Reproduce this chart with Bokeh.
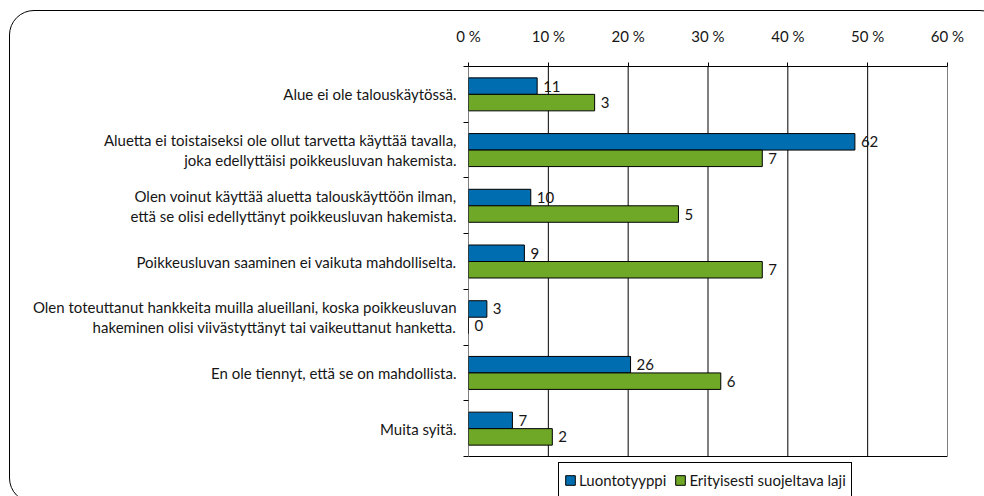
from bokeh.plotting import figure
from bokeh.models import (Range1d, FixedTicker, Legend, LegendItem,
                          ColumnDataSource, InlineStyleSheet)
from bokeh.core.properties import value
from bokeh.embed import file_html
from bokeh.resources import INLINE

# ---------------- data ----------------
categories = [
    "Alue ei ole talouskäytössä.",
    "Aluetta ei toistaiseksi ole ollut tarvetta käyttää tavalla,\njoka edellyttäisi poikkeusluvan hakemista.",
    "Olen voinut käyttää aluetta talouskäyttöön ilman,\nettä se olisi edellyttänyt poikkeusluvan hakemista.",
    "Poikkeusluvan saaminen ei vaikuta mahdolliselta.",
    "Olen toteuttanut hankkeita muilla alueillani, koska poikkeusluvan\nhakeminen olisi viivästyttänyt tai vaikeuttanut hanketta.",
    "En ole tiennyt, että se on mahdollista.",
    "Muita syitä.",
]
series_names = ["Luontotyyppi", "Erityisesti suojeltava laji"]
luontotyyppi_pct = [8.6, 48.4, 7.8, 7.0, 2.3, 20.3, 5.5]
luontotyyppi_n = [11, 62, 10, 9, 3, 26, 7]
laji_pct = [15.8, 36.8, 26.3, 36.8, 0.0, 31.6, 10.5]
laji_n = [3, 7, 5, 7, 0, 6, 2]
x_ticks = [0, 10, 20, 30, 40, 50, 60]
x_tick_labels = ["0 %", "10 %", "20 %", "30 %", "40 %", "50 %", "60 %"]

# ---------------- style ----------------
FONT = "Lato"
FS = "15px"
TXT = "#161616"
BLUE = "#006DB0"
GREEN = "#6FA827"
BAR_H = 0.296
PLOT_H_PX = 390      # height of the bar area
BOTTOM_PX = 40       # legend strip below the bar area (inside the frame)

n = len(categories)
centers = [i + 0.5 for i in range(n)]
boundaries = list(range(n + 1))
x_max = x_ticks[-1]

src_b = ColumnDataSource(dict(
    y=[c - BAR_H / 2 for c in centers],
    x=luontotyyppi_pct,
    t=[str(v) for v in luontotyyppi_n],
))
src_g = ColumnDataSource(dict(
    y=[c + BAR_H / 2 for c in centers],
    x=laji_pct,
    t=[str(v) for v in laji_n],
))

p = figure(width=984, height=496,
           x_range=Range1d(0, x_max),
           y_range=Range1d(n * (1 + BOTTOM_PX / PLOT_H_PX), 0),
           x_axis_location="above",
           output_backend="svg", toolbar_location=None,
           min_border_left=468, min_border_right=37,
           min_border_top=66, min_border_bottom=0)
p.background_fill_color = "white"
p.border_fill_color = "white"
p.outline_line_color = None
p.xgrid.visible = False
p.ygrid.visible = False

# x axis (top)
xa = p.xaxis[0]
xa.ticker = FixedTicker(ticks=x_ticks, minor_ticks=[])
xa.major_label_overrides = {t: l for t, l in zip(x_ticks, x_tick_labels)}
xa.axis_line_color = "black"
xa.major_tick_line_color = "black"
xa.major_tick_out = 4
xa.major_tick_in = 0
xa.minor_tick_out = 0
xa.minor_tick_in = 0
xa.major_label_standoff = 18
xa.major_label_text_font = FONT
xa.major_label_text_font_size = FS
xa.major_label_text_color = TXT

# y axis (left): labels at centers, ticks at boundaries (minor)
ya = p.yaxis[0]
ya.ticker = FixedTicker(ticks=centers, minor_ticks=boundaries)
ya.major_label_overrides = {c: lab for c, lab in zip(centers, categories)}
ya.axis_line_color = None
ya.major_tick_out = 0
ya.major_tick_in = 0
ya.minor_tick_line_color = "black"
ya.minor_tick_out = 5
ya.minor_tick_in = 0
ya.major_label_standoff = 7
ya.major_label_text_font = FONT
ya.major_label_text_font_size = FS
ya.major_label_text_color = TXT
ya.major_label_text_line_height = 1.12

# vertical grid lines (also the left axis line and right border)
p.segment(x0=x_ticks, y0=[0] * len(x_ticks), x1=x_ticks, y1=[n] * len(x_ticks),
          line_color="black", line_width=1)
# bottom border of the bar area
p.segment(x0=[0], y0=[n], x1=[x_max], y1=[n], line_color="black", line_width=1)

rb = p.hbar(y="y", left=0, right="x", height=BAR_H, source=src_b,
            fill_color=BLUE, line_color="black", line_width=1)
rg = p.hbar(y="y", left=0, right="x", height=BAR_H, source=src_g,
            fill_color=GREEN, line_color="black", line_width=1)

for src in (src_b, src_g):
    p.text(x="x", y="y", text="t", source=src, x_offset=6,
           text_align="left", text_baseline="middle",
           text_font=value(FONT), text_font_size=FS, text_color=TXT)

legend = Legend(items=[LegendItem(label=series_names[0], renderers=[rb]),
                       LegendItem(label=series_names[1], renderers=[rg])],
                orientation="horizontal", location=(90, -1))
legend.label_text_font = FONT
legend.label_text_font_size = FS
legend.label_text_color = TXT
legend.glyph_width = 12
legend.glyph_height = 12
legend.label_height = 23
legend.label_standoff = 3
legend.spacing = 8
legend.padding = 5
legend.margin = 0
legend.border_line_color = "black"
legend.border_line_width = 1
legend.border_line_alpha = 1.0
legend.background_fill_color = "white"
legend.background_fill_alpha = 1.0
p.add_layout(legend)

# rounded outer frame of the chart area (partly outside the window)
p.stylesheets = [InlineStyleSheet(css="""
:host { position: relative; overflow: hidden; }
:host::after {
  content: "";
  position: absolute;
  left: 9px; top: 10px; right: -21px; bottom: -7px;
  box-sizing: border-box;
  border: 1.3px solid #000;
  border-radius: 25px;
  pointer-events: none;
  z-index: 10;
}
""")]

open("out.html", "w").write(file_html(p, INLINE))
